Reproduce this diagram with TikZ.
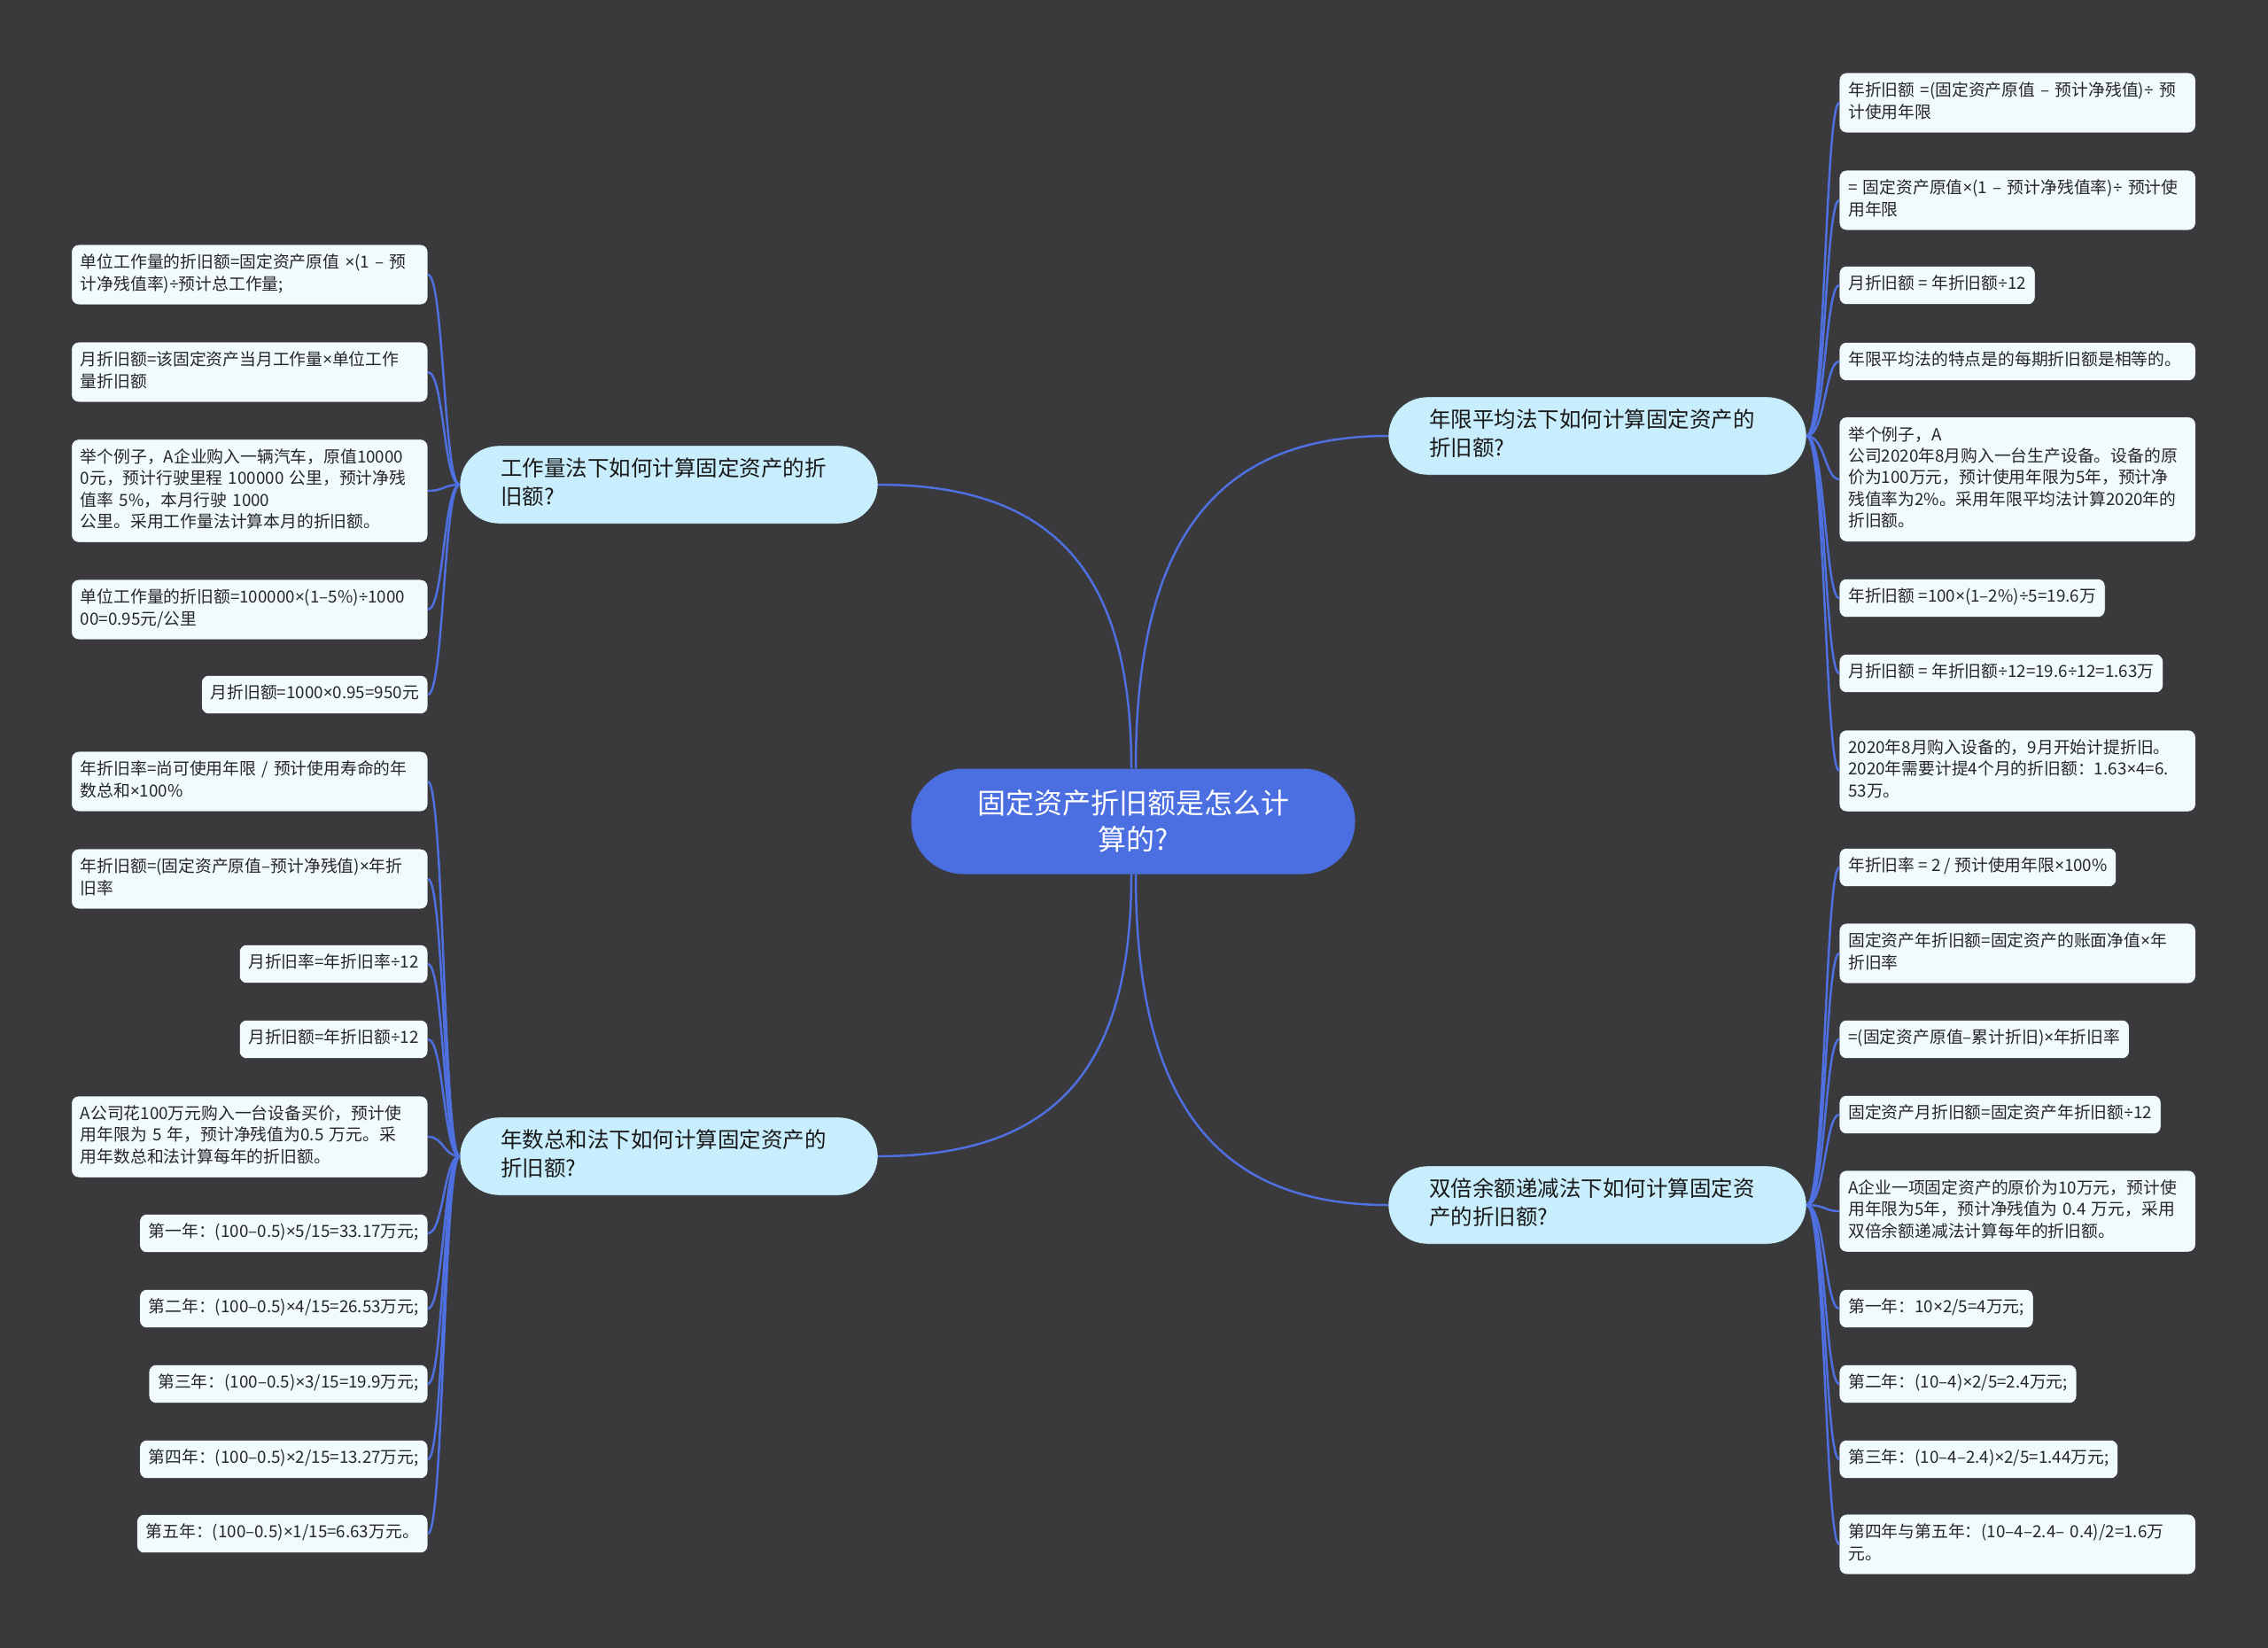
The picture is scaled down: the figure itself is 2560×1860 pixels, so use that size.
\documentclass[tikz,border=0pt]{standalone}
\usepackage{fontspec}
\setmainfont{Noto Sans CJK SC}
\newfontfamily\symfont{Noto Sans}
\newcommand\mul{{\symfont ×}}
\newcommand\dvd{{\symfont ÷}}
\definecolor{bgcol}{HTML}{3A393C}
\definecolor{linecol}{HTML}{4E70E0}
\definecolor{rootcol}{HTML}{4B6FE0}
\definecolor{subcol}{HTML}{C8EDFC}
\definecolor{leafcol}{HTML}{F1FBFE}
\definecolor{edgecol}{HTML}{262626}

\begin{document}
\begin{tikzpicture}[x=1pt,y=-1pt,
  root/.style={fill=rootcol,text=white,rounded corners=59,minimum width=501,minimum height=119,
    inner ysep=19,align=center,font=\fontsize{32}{41}\selectfont},
  sub/.style={draw=edgecol,fill=subcol,text=black!90,rounded corners=44,text width=380,
    inner xsep=46,inner ysep=12,align=left,font=\fontsize{24.5}{32}\selectfont,
    execute at begin node=\strut,execute at end node=\strut},
  leaf/.style={draw=edgecol,fill=leafcol,text=black!85,rounded corners=8,inner xsep=10,
    inner ysep=9.5,align=left,font=\fontsize{18.8}{24.3}\selectfont,
    execute at begin node=\strut,execute at end node=\strut},
  wide/.style={text width=382},
  link/.style={draw=linecol,line width=2.5}]

\fill[bgcol] (0,0) rectangle (2560,1860);

\node[root] (root) at (1279,927) {固定资产折旧额是怎么计\\算的?};

\node[sub] (gzl) at (755,547) {工作量法下如何计算固定资产的折\\旧额?};
\node[sub] (nszh) at (755,1305) {年数总和法下如何计算固定资产的\\折旧额?};
\node[sub] (nxpj) at (1803,492) {年限平均法下如何计算固定资产的\\折旧额?};
\node[sub] (sbye) at (1803,1360) {双倍余额递减法下如何计算固定资\\产的折旧额?};

\node[leaf,wide,anchor=east] (l1) at (483,310) {单位工作量的折旧额=固定资产原值 \mul{}(1 – 预\\计净残值率)\dvd{}预计总工作量;};
\node[leaf,wide,anchor=east] (l2) at (483,420) {月折旧额=该固定资产当月工作量\mul{}单位工作\\量折旧额};
\node[leaf,wide,anchor=east] (l3) at (483,554) {举个例子，A企业购入一辆汽车，原值10000\\0元，预计行驶里程 100000 公里，预计净残\\值率 5\%，本月行驶 1000\\公里。采用工作量法计算本月的折旧额。};
\node[leaf,wide,anchor=east] (l4) at (483,688) {单位工作量的折旧额=100000\mul{}(1–5\%)\dvd{}1000\\00=0.95元/公里};
\node[leaf,anchor=east] (l5) at (483,784) {月折旧额=1000\mul{}0.95=950元};

\node[leaf,wide,anchor=east] (l6) at (483,882) {年折旧率=尚可使用年限 / 预计使用寿命的年\\数总和\mul{}100\%};
\node[leaf,wide,anchor=east] (l7) at (483,992) {年折旧额=(固定资产原值–预计净残值)\mul{}年折\\旧率};
\node[leaf,anchor=east] (l8) at (483,1088) {月折旧率=年折旧率\dvd{}12};
\node[leaf,anchor=east] (l9) at (483,1173) {月折旧额=年折旧额\dvd{}12};
\node[leaf,wide,anchor=east] (l10) at (483,1283) {A公司花100万元购入一台设备买价，预计使\\用年限为 5 年，预计净残值为0.5 万元。采\\用年数总和法计算每年的折旧额。};
\node[leaf,anchor=east] (l11) at (483,1392) {第一年：(100–0.5)\mul{}5/15=33.17万元;};
\node[leaf,anchor=east] (l12) at (483,1477) {第二年：(100–0.5)\mul{}4/15=26.53万元;};
\node[leaf,anchor=east] (l13) at (483,1562) {第三年：(100–0.5)\mul{}3/15=19.9万元;};
\node[leaf,anchor=east] (l14) at (483,1647) {第四年：(100–0.5)\mul{}2/15=13.27万元;};
\node[leaf,anchor=east] (l15) at (483,1731) {第五年：(100–0.5)\mul{}1/15=6.63万元。};

\node[leaf,wide,anchor=west] (r1) at (2076,116) {年折旧额 =(固定资产原值 – 预计净残值)\dvd{} 预\\计使用年限};
\node[leaf,wide,anchor=west] (r2) at (2076,226) {= 固定资产原值\mul{}(1 – 预计净残值率)\dvd{} 预计使\\用年限};
\node[leaf,anchor=west] (r3) at (2076,322) {月折旧额 = 年折旧额\dvd{}12};
\node[leaf,wide,anchor=west] (r4) at (2076,408) {年限平均法的特点是的每期折旧额是相等的。};
\node[leaf,wide,anchor=west] (r5) at (2076,541) {举个例子，A\\公司2020年8月购入一台生产设备。设备的原\\价为100万元，预计使用年限为5年，预计净\\残值率为2\%。采用年限平均法计算2020年的\\折旧额。};
\node[leaf,anchor=west] (r6) at (2076,675) {年折旧额 =100\mul{}(1–2\%)\dvd{}5=19.6万};
\node[leaf,anchor=west] (r7) at (2076,760) {月折旧额 = 年折旧额\dvd{}12=19.6\dvd{}12=1.63万};
\node[leaf,wide,anchor=west] (r8) at (2076,870) {2020年8月购入设备的，9月开始计提折旧。\\2020年需要计提4个月的折旧额：1.63\mul{}4=6.\\53万。};

\node[leaf,anchor=west] (r9) at (2076,979) {年折旧率 = 2 / 预计使用年限\mul{}100\%};
\node[leaf,wide,anchor=west] (r10) at (2076,1076) {固定资产年折旧额=固定资产的账面净值\mul{}年\\折旧率};
\node[leaf,anchor=west] (r11) at (2076,1173) {=(固定资产原值–累计折旧)\mul{}年折旧率};
\node[leaf,anchor=west] (r12) at (2076,1258) {固定资产月折旧额=固定资产年折旧额\dvd{}12};
\node[leaf,wide,anchor=west] (r13) at (2076,1367) {A企业一项固定资产的原价为10万元，预计使\\用年限为5年，预计净残值为 0.4 万元，采用\\双倍余额递减法计算每年的折旧额。};
\node[leaf,anchor=west] (r14) at (2076,1477) {第一年：10\mul{}2/5=4万元;};
\node[leaf,anchor=west] (r15) at (2076,1562) {第二年：(10–4)\mul{}2/5=2.4万元;};
\node[leaf,anchor=west] (r16) at (2076,1647) {第三年：(10–4–2.4)\mul{}2/5=1.44万元;};
\node[leaf,wide,anchor=west] (r17) at (2076,1743) {第四年与第五年：(10–4–2.4– 0.4)/2=1.6万\\元。};

\draw[link] ([xshift=-2]root.north) .. controls +(0,-220) and +(200,0) .. (gzl.east);
\draw[link] ([xshift=3]root.north) .. controls +(0,-250) and +(-200,0) .. (nxpj.west);
\draw[link] ([xshift=-2]root.south) .. controls +(0,220) and +(200,0) .. (nszh.east);
\draw[link] ([xshift=3]root.south) .. controls +(0,250) and +(-200,0) .. (sbye.west);

\draw[link] (gzl.west) .. controls +(-18,0) and +(18,0) .. (l1.east);
\draw[link] (gzl.west) .. controls +(-18,0) and +(18,0) .. (l2.east);
\draw[link] (gzl.west) .. controls +(-18,0) and +(18,0) .. (l3.east);
\draw[link] (gzl.west) .. controls +(-18,0) and +(18,0) .. (l4.east);
\draw[link] (gzl.west) .. controls +(-18,0) and +(18,0) .. (l5.east);

\draw[link] (nszh.west) .. controls +(-18,0) and +(18,0) .. (l6.east);
\draw[link] (nszh.west) .. controls +(-18,0) and +(18,0) .. (l7.east);
\draw[link] (nszh.west) .. controls +(-18,0) and +(18,0) .. (l8.east);
\draw[link] (nszh.west) .. controls +(-18,0) and +(18,0) .. (l9.east);
\draw[link] (nszh.west) .. controls +(-18,0) and +(18,0) .. (l10.east);
\draw[link] (nszh.west) .. controls +(-18,0) and +(18,0) .. (l11.east);
\draw[link] (nszh.west) .. controls +(-18,0) and +(18,0) .. (l12.east);
\draw[link] (nszh.west) .. controls +(-18,0) and +(18,0) .. (l13.east);
\draw[link] (nszh.west) .. controls +(-18,0) and +(18,0) .. (l14.east);
\draw[link] (nszh.west) .. controls +(-18,0) and +(18,0) .. (l15.east);

\draw[link] (nxpj.east) .. controls +(21,0) and +(-16,0) .. (r1.west);
\draw[link] (nxpj.east) .. controls +(21,0) and +(-16,0) .. (r2.west);
\draw[link] (nxpj.east) .. controls +(21,0) and +(-16,0) .. (r3.west);
\draw[link] (nxpj.east) .. controls +(21,0) and +(-16,0) .. (r4.west);
\draw[link] (nxpj.east) .. controls +(21,0) and +(-16,0) .. (r5.west);
\draw[link] (nxpj.east) .. controls +(21,0) and +(-16,0) .. (r6.west);
\draw[link] (nxpj.east) .. controls +(21,0) and +(-16,0) .. (r7.west);
\draw[link] (nxpj.east) .. controls +(21,0) and +(-16,0) .. (r8.west);

\draw[link] (sbye.east) .. controls +(21,0) and +(-16,0) .. (r9.west);
\draw[link] (sbye.east) .. controls +(21,0) and +(-16,0) .. (r10.west);
\draw[link] (sbye.east) .. controls +(21,0) and +(-16,0) .. (r11.west);
\draw[link] (sbye.east) .. controls +(21,0) and +(-16,0) .. (r12.west);
\draw[link] (sbye.east) .. controls +(21,0) and +(-16,0) .. (r13.west);
\draw[link] (sbye.east) .. controls +(21,0) and +(-16,0) .. (r14.west);
\draw[link] (sbye.east) .. controls +(21,0) and +(-16,0) .. (r15.west);
\draw[link] (sbye.east) .. controls +(21,0) and +(-16,0) .. (r16.west);
\draw[link] (sbye.east) .. controls +(21,0) and +(-16,0) .. (r17.west);

\end{tikzpicture}
\end{document}
